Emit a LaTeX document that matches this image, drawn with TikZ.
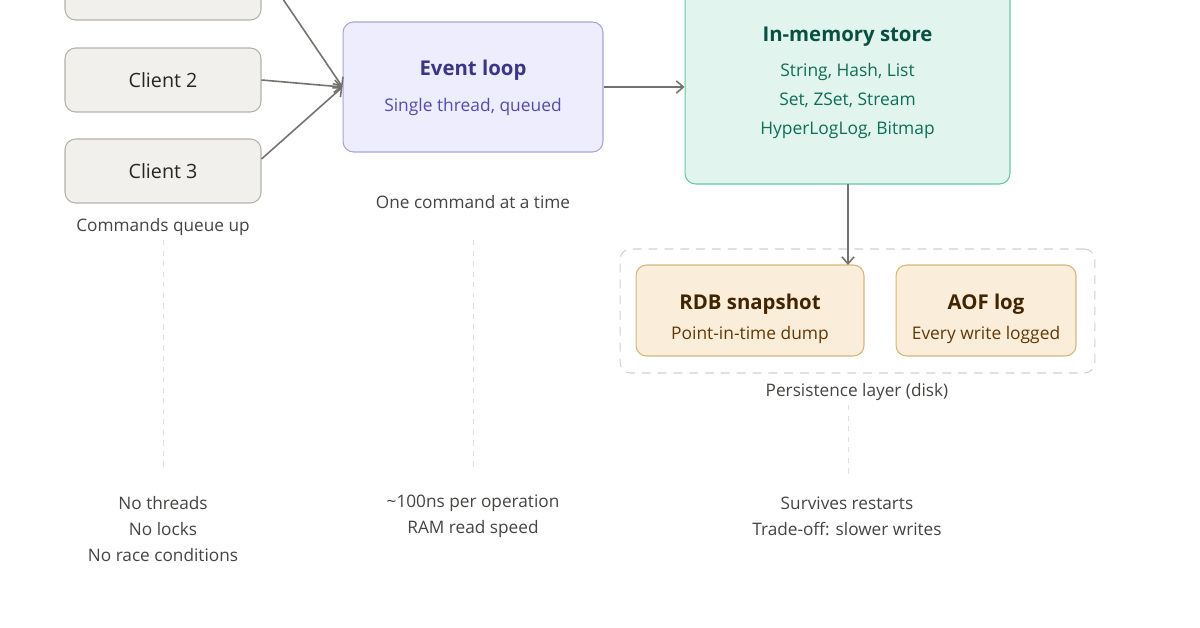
\documentclass[tikz,border=0pt]{standalone}
\usepackage{fontspec}
\setmainfont{Open Sans}
\usetikzlibrary{arrows.meta, positioning}
\definecolor{clientfill}{HTML}{F1F0EC}
\definecolor{clientline}{HTML}{B4B2A9}
\definecolor{loopfill}{HTML}{EEEDFE}
\definecolor{loopline}{HTML}{A9A4E0}
\definecolor{looptitle}{HTML}{3C3489}
\definecolor{looptext}{HTML}{534AB7}
\definecolor{storefill}{HTML}{E1F5EE}
\definecolor{storeline}{HTML}{5DCAA5}
\definecolor{storetitle}{HTML}{085041}
\definecolor{storetext}{HTML}{0F6E56}
\definecolor{diskfill}{HTML}{FAEEDA}
\definecolor{diskline}{HTML}{D3B77A}
\definecolor{disktitle}{HTML}{412402}
\definecolor{disktext}{HTML}{633806}
\definecolor{arrowgray}{HTML}{73726C}
\definecolor{notegray}{HTML}{444441}

\begin{document}
\begin{tikzpicture}[x=0.02cm, y=-0.02cm,
    box/.style={draw, rounded corners=6pt, line width=0.6pt, inner sep=0pt, align=center},
    client/.style={box, fill=clientfill, draw=clientline, minimum width=3.92cm, minimum height=1.28cm, font=\fontsize{11.2}{13}\selectfont, text=black!85},
    disk/.style={box, fill=diskfill, draw=diskline, minimum height=1.82cm},
    title/.style={font=\fontsize{11.6}{14}\selectfont\bfseries},
    sub/.style={font=\fontsize{9.9}{12}\selectfont},
    note/.style={font=\fontsize{9.8}{14.8}\selectfont, text=notegray, align=center},
    flow/.style={draw=arrowgray, line width=0.9pt, -{Straight Barb[length=4pt, width=7pt]}},
    guide/.style={draw=black!12, line width=0.5pt, dash pattern=on 3pt off 3pt}]
    \useasboundingbox (0,0) rectangle (1200,628);
    \clip (0,0) rectangle (1200,628);
    \fill[white] (0,0) rectangle (1200,628);

    \node[client] (c1) at (163,-12) {Client 1};
    \node[client] (c2) at (163,80) {Client 2};
    \node[client] (c3) at (163,171) {Client 3};

    \node[box, fill=loopfill, draw=loopline, minimum width=5.2cm, minimum height=2.6cm] (loop) at (473,87) {};
    \node[title, text=looptitle] (looptitle) at (473,70) {Event loop};
    \node[sub, text=looptext] (looptext) at (473,107) {Single thread, queued};

    \node[box, fill=storefill, draw=storeline, minimum width=6.5cm, minimum height=4.08cm] (store) at (847.5,82) {};
    \node[title, text=storetitle] (storetitle) at (847.5,37) {In-memory store};
    \node[sub, text=storetext, align=center, font=\fontsize{9.9}{16.5}\selectfont] (storetext) at (847.5,101)
        {String, Hash, List\\Set, ZSet, Stream\\HyperLogLog, Bitmap};

    \node[box, draw=black!18, dash pattern=on 5pt off 4pt, minimum width=9.5cm, minimum height=2.48cm] (layer) at (857.5,311) {};
    \node[disk, minimum width=4.56cm] (rdb) at (750,310.5) {};
    \node[disk, minimum width=3.6cm] (aof) at (986,310.5) {};
    \node[title, text=disktitle] (rdbtitle) at (750,304) {RDB snapshot};
    \node[sub, text=disktext] (rdbtext) at (750,335) {Point-in-time dump};
    \node[title, text=disktitle] (aoftitle) at (986,304) {AOF log};
    \node[sub, text=disktext] (aoftext) at (986,335) {Every write logged};

    \draw[flow] (c1.north east) ++(0,12) -- (loop.west);
    \draw[flow] (c2.east) -- (loop.west);
    \draw[flow] (c3.east) ++(0,-12) -- (loop.west);
    \draw[flow] (loop.east) -- (store.west |- loop.east);
    \draw[flow] (848,184) -- (848,265);

    \node[note] (queue) at (163,227) {Commands queue up};
    \node[note] (onecmd) at (473,202) {One command at a time};
    \node[note] (persist) at (857,392) {Persistence layer (disk)};

    \draw[guide] (163,240) -- (163,470);
    \draw[guide] (473,240) -- (473,470);
    \draw[guide] (848,405) -- (848,475);

    \node[note] (threads) at (163,529) {No threads\\No locks\\No race conditions};
    \node[note] (speed) at (473,516) {\textasciitilde100ns per operation\\RAM read speed};
    \node[note] (restart) at (847,516) {Survives restarts\\Trade-off: slower writes};
\end{tikzpicture}
\end{document}
